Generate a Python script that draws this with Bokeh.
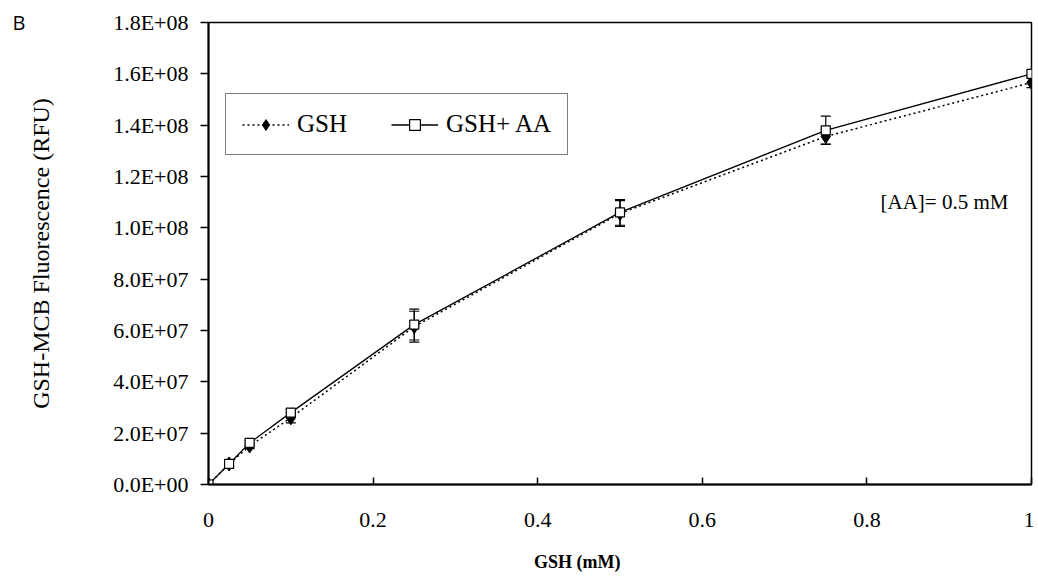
from bokeh.plotting import figure
from bokeh.models import (ColumnDataSource, Whisker, TeeHead, Label, Legend, LegendItem,
                          CustomJSTickFormatter, FixedTicker, Range1d, LinearAxis)
from bokeh.embed import file_html
from bokeh.resources import INLINE

# ---- data ----
gsh_mm = [0, 0.025, 0.05, 0.1, 0.25, 0.5, 0.75, 1.0]
gsh_rfu = [0, 8.0e6, 1.5e7, 2.6e7, 6.15e7, 1.056e8, 1.356e8, 1.566e8]
gsh_err = [0, 1.0e6, 1.0e6, 2.0e6, 6.0e6, 5.0e6, 3.0e6, 2.0e6]
gshaa_rfu = [0, 8.0e6, 1.62e7, 2.8e7, 6.23e7, 1.06e8, 1.38e8, 1.6e8]
gshaa_err = [0, 1.0e6, 1.0e6, 1.5e6, 6.0e6, 5.0e6, 5.5e6, 1.5e6]
y_ticks = [i * 2e7 for i in range(10)]
x_ticks = [0, 0.2, 0.4, 0.6, 0.8, 1.0]
series_labels = ["GSH", "GSH+ AA"]
x_title = "GSH (mM)"
y_title = "GSH-MCB Fluorescence (RFU)"
note_text = "[AA]= 0.5 mM"
panel_tag = "B"

SERIF = "Liberation Serif"

src1 = ColumnDataSource(dict(x=gsh_mm, y=gsh_rfu,
                             lo=[v - e for v, e in zip(gsh_rfu, gsh_err)],
                             hi=[v + e for v, e in zip(gsh_rfu, gsh_err)]))
src2 = ColumnDataSource(dict(x=gsh_mm, y=gshaa_rfu,
                             lo=[v - e for v, e in zip(gshaa_rfu, gshaa_err)],
                             hi=[v + e for v, e in zip(gshaa_rfu, gshaa_err)]))

p = figure(width=1034, height=575, output_backend="svg", toolbar_location=None,
           x_range=Range1d(0, 1), y_range=Range1d(0, 1.8e8),
           min_border_left=208, min_border_right=3, min_border_top=22, min_border_bottom=91)

p.outline_line_color = "black"
p.outline_line_width = 1.5
p.xgrid.visible = False
p.ygrid.visible = False
p.background_fill_color = "white"
p.border_fill_color = "white"

# error bars
for src in (src1, src2):
    w = Whisker(source=src, base="x", upper="hi", lower="lo",
                line_color="black", line_width=1.2,
                upper_head=TeeHead(size=10, line_color="black", line_width=1.2),
                lower_head=TeeHead(size=10, line_color="black", line_width=1.2))
    p.add_layout(w)

l1 = p.line("x", "y", source=src1, line_color="black", line_width=1.5, line_dash="2 3")
m1 = p.scatter("x", "y", source=src1, marker="diamond", size=14, fill_color="black", line_color="black")
l2 = p.line("x", "y", source=src2, line_color="black", line_width=1.3)
m2 = p.scatter("x", "y", source=src2, marker="square", size=9, fill_color="white",
               line_color="black", line_width=1.2)

legend = Legend(items=[LegendItem(label=series_labels[0], renderers=[l1, m1]),
                       LegendItem(label=series_labels[1], renderers=[l2, m2])],
                orientation="horizontal", location=(17, 329),
                label_text_font=SERIF, label_text_font_size="25px", label_text_color="black",
                glyph_width=47, glyph_height=27, label_height=27,
                spacing=44, padding=16, margin=0, label_standoff=8,
                border_line_color="black", border_line_width=1.5,
                background_fill_alpha=1.0)
p.add_layout(legend, "center")

# axes
p.xaxis.ticker = FixedTicker(ticks=x_ticks)
p.yaxis.ticker = FixedTicker(ticks=y_ticks)
p.xaxis.formatter = CustomJSTickFormatter(code="return tick.toString();")
p.yaxis.formatter = CustomJSTickFormatter(code="""
    if (tick == 0) return '0.0E+00';
    const e = Math.floor(Math.log10(Math.abs(tick)) + 1e-9);
    const m = tick / Math.pow(10, e);
    return m.toFixed(1) + 'E+' + (e < 10 ? '0' : '') + e;
""")
for ax in (p.xaxis[0], p.yaxis[0]):
    ax.axis_line_color = "black"
    ax.axis_line_width = 2
    ax.major_tick_line_color = "black"
    ax.major_tick_line_width = 1.5
    ax.minor_tick_line_color = None
    ax.major_label_text_font = SERIF
    ax.major_label_text_font_size = "22px"
    ax.major_label_text_color = "black"
    ax.axis_label_text_font = SERIF
    ax.axis_label_text_color = "black"

p.xaxis.major_tick_out = 0
p.xaxis.major_tick_in = 7
p.xaxis.major_label_standoff = 28

p.yaxis.major_tick_out = 8
p.yaxis.major_tick_in = 0
p.yaxis.major_label_standoff = 12
p.yaxis.axis_label = y_title
p.yaxis.axis_label_text_font_style = "normal"
p.yaxis.axis_label_text_font_size = "24px"
p.yaxis.axis_label_standoff = 56

# x title, left of centre as in the original: the single label of an outer invisible axis
xt_axis = LinearAxis(ticker=FixedTicker(ticks=[0.448]),
                     formatter=CustomJSTickFormatter(code="return '%s';" % x_title),
                     axis_line_color=None, major_tick_line_color=None, minor_tick_line_color=None,
                     major_label_text_font=SERIF, major_label_text_font_size="18px",
                     major_label_text_font_style="bold",
                     major_label_text_color="black", major_label_standoff=16)
p.add_layout(xt_axis, "below")

# panel tag "B" drawn as the single tick label of an outer, otherwise invisible axis
tag_axis = LinearAxis(ticker=FixedTicker(ticks=[y_ticks[-1]]),
                      formatter=CustomJSTickFormatter(code="return '%s';" % panel_tag),
                      axis_line_color=None, major_tick_line_color=None, minor_tick_line_color=None,
                      major_label_text_font="Open Sans", major_label_text_font_size="20px",
                      major_label_text_color="black", major_label_standoff=-6)
p.add_layout(tag_axis, "left")

p.add_layout(Label(x=672, y=283, x_units="screen", y_units="screen", text=note_text,
                   text_font=SERIF, text_font_size="21px", text_color="black",
                   text_baseline="middle"))

open("out.html", "w").write(file_html(p, INLINE))
